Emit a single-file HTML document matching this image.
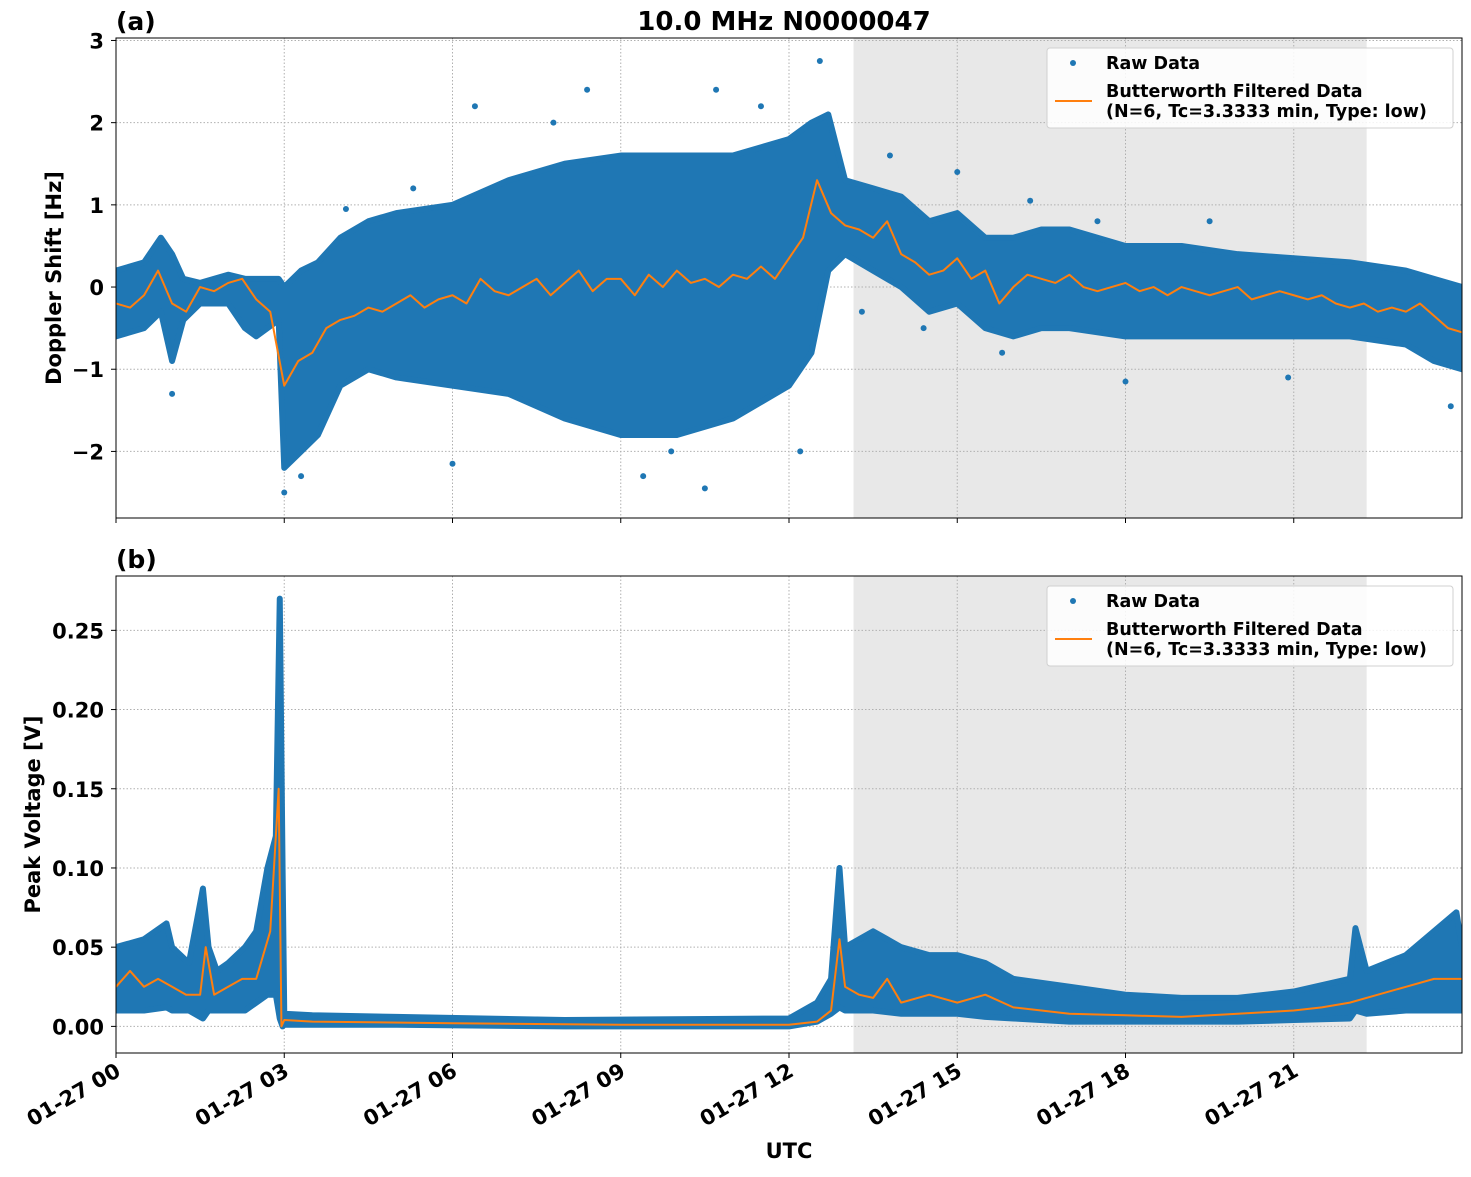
<!DOCTYPE html>
<html><head><meta charset="utf-8"><style>
body{margin:0;background:#fff;}
svg text{font-family:"DejaVu Sans","Liberation Sans",sans-serif;font-weight:bold;fill:#000;}
</style></head><body>
<svg id="fig" width="1471" height="1172" xmlns="http://www.w3.org/2000/svg"></svg>
<script>
// ---------- data ----------
const xTickHours=[0,3,6,9,12,15,18,21];
const xTickLabels=["01-27 00","01-27 03","01-27 06","01-27 09","01-27 12","01-27 15","01-27 18","01-27 21"];
const shadeRange=[13.15,22.3];
const aTicks=[-2,-1,0,1,2,3];
const aTickLabels=["\u22122","\u22121","0","1","2","3"];
const bTicks=[0,0.05,0.10,0.15,0.20,0.25];
const bTickLabels=["0.00","0.05","0.10","0.15","0.20","0.25"];
const aBandT=[0,0.5,0.8,1.0,1.2,1.5,2.0,2.3,2.5,2.9,3.0,3.3,3.6,4.0,4.5,5,6,7,8,9,10,11,12,12.4,12.7,13,13.5,14,14.5,15,15.5,16,16.5,17,18,19,20,21,22,23,23.5,24];
const aBandHi=[0.2,0.3,0.6,0.4,0.1,0.05,0.15,0.1,0.1,0.1,0.0,0.2,0.3,0.6,0.8,0.9,1.0,1.3,1.5,1.6,1.6,1.6,1.8,2.0,2.1,1.3,1.2,1.1,0.8,0.9,0.6,0.6,0.7,0.7,0.5,0.5,0.4,0.35,0.3,0.2,0.1,0.0];
const aBandLo=[-0.6,-0.5,-0.3,-0.9,-0.4,-0.2,-0.2,-0.5,-0.6,-0.4,-2.2,-2.0,-1.8,-1.2,-1.0,-1.1,-1.2,-1.3,-1.6,-1.8,-1.8,-1.6,-1.2,-0.8,0.2,0.4,0.2,0.0,-0.3,-0.2,-0.5,-0.6,-0.5,-0.5,-0.6,-0.6,-0.6,-0.6,-0.6,-0.7,-0.9,-1.0];
const aOutT=[3.0,3.3,8.4,12.55,10.7,6.4,9.4,10.5,13.8,15.0,16.3,20.9,18.0,23.8,1.0,6.0,4.1,5.3,17.5,19.5,13.3,14.4,15.8,11.5,7.8,9.9,12.2];
const aOutV=[-2.5,-2.3,2.4,2.75,2.4,2.2,-2.3,-2.45,1.6,1.4,1.05,-1.1,-1.15,-1.45,-1.3,-2.15,0.95,1.2,0.8,0.8,-0.3,-0.5,-0.8,2.2,2.0,-2.0,-2.0];
const aFiltT=[];for(let i=0;i<=96;i++)aFiltT.push(i*0.25);
const aFiltV=[-0.2,-0.25,-0.1,0.2,-0.2,-0.3,0.0,-0.05,0.05,0.1,-0.15,-0.3,-1.2,-0.9,-0.8,-0.5,-0.4,-0.35,-0.25,-0.3,-0.2,-0.1,-0.25,-0.15,-0.1,-0.2,0.1,-0.05,-0.1,0.0,0.1,-0.1,0.05,0.2,-0.05,0.1,0.1,-0.1,0.15,0.0,0.2,0.05,0.1,0.0,0.15,0.1,0.25,0.1,0.35,0.6,1.3,0.9,0.75,0.7,0.6,0.8,0.4,0.3,0.15,0.2,0.35,0.1,0.2,-0.2,0.0,0.15,0.1,0.05,0.15,0.0,-0.05,0.0,0.05,-0.05,0.0,-0.1,0.0,-0.05,-0.1,-0.05,0.0,-0.15,-0.1,-0.05,-0.1,-0.15,-0.1,-0.2,-0.25,-0.2,-0.3,-0.25,-0.3,-0.2,-0.35,-0.5,-0.55];
const bBandT=[0,0.5,0.9,1.0,1.3,1.55,1.65,1.8,2.0,2.3,2.5,2.7,2.85,2.92,2.97,3.0,3.5,5,8,12,12.5,12.75,12.9,13.0,13.5,14,14.5,15,15.5,16,17,18,19,20,21,22,22.1,22.3,23,23.5,23.9,24];
const bBandHi=[0.05,0.055,0.065,0.05,0.04,0.087,0.05,0.035,0.04,0.05,0.06,0.1,0.12,0.27,0.1,0.008,0.007,0.006,0.004,0.005,0.015,0.03,0.1,0.05,0.06,0.05,0.045,0.045,0.04,0.03,0.025,0.02,0.018,0.018,0.022,0.03,0.062,0.035,0.045,0.06,0.072,0.05];
const bBandLo=[0.01,0.01,0.012,0.01,0.01,0.005,0.01,0.01,0.01,0.01,0.015,0.02,0.02,0.005,0.0,0.001,0.001,0.001,0.0,0.0,0.003,0.008,0.012,0.01,0.01,0.008,0.008,0.008,0.006,0.005,0.003,0.003,0.003,0.003,0.004,0.005,0.01,0.008,0.01,0.01,0.01,0.01];
const bFiltT=[0,0.25,0.5,0.75,1,1.25,1.5,1.6,1.75,2,2.25,2.5,2.75,2.9,2.95,3.0,3.5,6,9,12,12.5,12.75,12.9,13.0,13.25,13.5,13.75,14,14.5,15,15.5,16,16.5,17,18,19,20,21,21.5,22,22.5,23,23.5,24];
const bFiltV=[0.025,0.035,0.025,0.03,0.025,0.02,0.02,0.05,0.02,0.025,0.03,0.03,0.06,0.15,0.0,0.004,0.003,0.002,0.001,0.001,0.003,0.01,0.055,0.025,0.02,0.018,0.03,0.015,0.02,0.015,0.02,0.012,0.01,0.008,0.007,0.006,0.008,0.01,0.012,0.015,0.02,0.025,0.03,0.03];

// ---------- drawing ----------
const NS="http://www.w3.org/2000/svg";
const svg=document.getElementById('fig');
function el(tag,attrs,parent,text){const e=document.createElementNS(NS,tag);for(const k in attrs)e.setAttribute(k,attrs[k]);if(text!==undefined)e.textContent=text;(parent||svg).appendChild(e);return e;}
const X0=116,X1=1462;
const xs=h=>X0+(h/24)*(X1-X0);
function panel(cfg){
  const {top,bot,ymin,ymax,name}=cfg;
  const ys=v=>bot-(v-ymin)/(ymax-ymin)*(bot-top);
  const g=el('g',{},svg);
  
  
  const clip=el('clipPath',{id:'clip-'+name},g);el('rect',{x:X0,y:top,width:X1-X0,height:bot-top},clip);
  const sh=el('rect',{x:xs(shadeRange[0]),y:top,width:xs(shadeRange[1])-xs(shadeRange[0]),height:bot-top,fill:'#e8e8e8'},g);
  
  
  xTickHours.forEach(h=>{el('line',{x1:xs(h),x2:xs(h),y1:top,y2:bot,stroke:'#b0b0b0','stroke-width':1,'stroke-dasharray':'1.5,2'},g);});
  cfg.ticks.forEach(v=>{el('line',{x1:X0,x2:X1,y1:ys(v),y2:ys(v),stroke:'#b0b0b0','stroke-width':1,'stroke-dasharray':'1.5,2'},g);});
  const dg=el('g',{'clip-path':'url(#clip-'+name+')'},g);
  let pts=[];
  cfg.bt.forEach((t,i)=>pts.push(xs(t)+','+ys(cfg.bh[i])));
  for(let i=cfg.bt.length-1;i>=0;i--)pts.push(xs(cfg.bt[i])+','+ys(cfg.bl[i]));
  const band=el('polygon',{points:pts.join(' '),fill:'#1f77b4',stroke:'#1f77b4','stroke-width':6,'stroke-linejoin':'round'},dg);
  
  
  (cfg.ot||[]).forEach((t,i)=>{
    const c=el('circle',{cx:xs(t),cy:ys(cfg.ov[i]),r:3,fill:'#1f77b4'},dg);
    
    
  });
  const line=el('polyline',{points:cfg.ft.map((t,i)=>xs(t)+','+ys(cfg.fv[i])).join(' '),fill:'none',stroke:'#ff7f0e','stroke-width':2,'stroke-linejoin':'round'},dg);
  
  
  el('rect',{x:X0,y:top,width:X1-X0,height:bot-top,fill:'none',stroke:'#000','stroke-width':1},g);
  cfg.ticks.forEach((v,i)=>{
    el('line',{x1:X0-5,x2:X0,y1:ys(v),y2:ys(v),stroke:'#000'},g);
    const t=el('text',{x:X0-12,y:ys(v)+8,'text-anchor':'end','font-size':21},g,cfg.tl[i]);
    
    
  });
  xTickHours.forEach(h=>el('line',{x1:xs(h),x2:xs(h),y1:bot,y2:bot+5,stroke:'#000'},g));
  const yl=el('text',{x:0,y:0,'text-anchor':'middle','font-size':21,transform:`translate(${cfg.ylx},${(top+bot)/2}) rotate(-90)`},g,cfg.ylabel);
  
  
  const pl=el('text',{x:116,y:top-8,'font-size':25},g,cfg.plabel);
  
  
  const lg=el('g',{},g);
  
  
  const ly=top+10;
  el('rect',{x:1047,y:ly,width:406,height:80,rx:3,fill:'#fff','fill-opacity':0.85,stroke:'#d0d0d0'},lg);
  el('circle',{cx:1073,cy:ly+15,r:3,fill:'#1f77b4'},lg);
  el('text',{x:1106,y:ly+21,'font-size':17.5},lg,'Raw Data');
  el('line',{x1:1055,x2:1092,y1:ly+53,y2:ly+53,stroke:'#ff7f0e','stroke-width':2},lg);
  el('text',{x:1106,y:ly+49,'font-size':17.5},lg,'Butterworth Filtered Data');
  el('text',{x:1106,y:ly+69,'font-size':17.5},lg,'(N=6, Tc=3.3333 min, Type: low)');
}
panel({name:'panel-a-doppler',top:38,bot:518,ymin:-2.81,ymax:3.03,ticks:aTicks,tl:aTickLabels,bt:aBandT,bh:aBandHi,bl:aBandLo,ot:aOutT,ov:aOutV,ft:aFiltT,fv:aFiltV,ylabel:'Doppler Shift [Hz]',ylx:61,plabel:'(a)'});
panel({name:'panel-b-voltage',top:576,bot:1053,ymin:-0.0168,ymax:0.2843,ticks:bTicks,tl:bTickLabels,bt:bBandT,bh:bBandHi,bl:bBandLo,ot:[],ov:[],ft:bFiltT,fv:bFiltV,ylabel:'Peak Voltage [V]',ylx:40,plabel:'(b)'});
xTickHours.forEach((h,i)=>{
  const t=el('text',{x:0,y:0,'text-anchor':'end','font-size':21,transform:`translate(${xs(h)+6},${1075}) rotate(-30)`},svg,xTickLabels[i]);
  
  
});
const xt=el('text',{x:789,y:1158,'text-anchor':'middle','font-size':21},svg,'UTC');


const ti=el('text',{x:784,y:30,'text-anchor':'middle','font-size':26},svg,'10.0 MHz N0000047');


</script>
</body></html>
